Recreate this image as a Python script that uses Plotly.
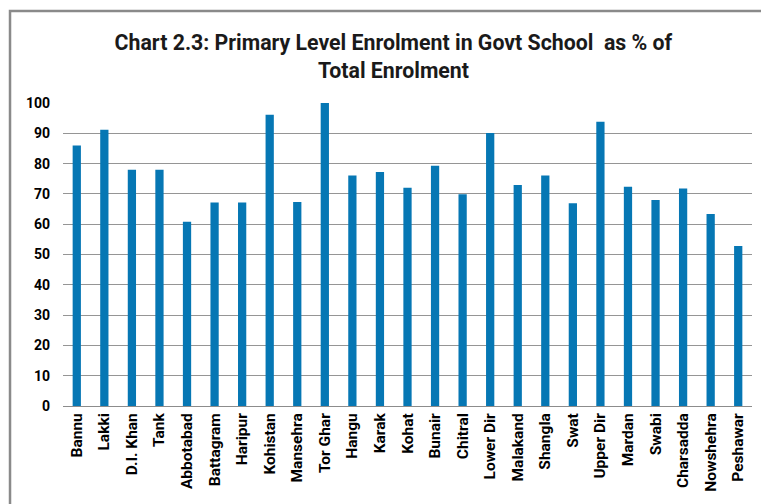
import plotly.graph_objects as go

districts = ["Bannu", "Lakki", "D.I. Khan", "Tank", "Abbotabad", "Battagram", "Haripur",
             "Kohistan", "Mansehra", "Tor Ghar", "Hangu", "Karak", "Kohat", "Bunair",
             "Chitral", "Lower Dir", "Malakand", "Shangla", "Swat", "Upper Dir", "Mardan",
             "Swabi", "Charsadda", "Nowshehra", "Peshawar"]
enrolment_pct = [86.0, 91.2, 78.0, 78.0, 60.8, 67.2, 67.2, 96.1, 67.3, 100.0, 76.1, 77.2,
                 72.0, 79.3, 69.9, 90.1, 72.9, 76.1, 66.9, 93.8, 72.4, 68.0, 71.8, 63.4, 52.8]
y_ticks = [0, 10, 20, 30, 40, 50, 60, 70, 80, 90, 100]

FONT = "Roboto"

fig = go.Figure(go.Bar(x=districts, y=enrolment_pct, marker=dict(color="#0677b4", line=dict(width=0))))

fig.update_layout(
    width=761, height=504,
    margin=dict(l=63, r=9, t=103, b=98),
    paper_bgcolor="white", plot_bgcolor="white",
    bargap=0.70,
    showlegend=False,
    title=dict(
        text="Chart 2.3: Primary Level Enrolment in Govt School \u00a0as % of<br>Total Enrolment",
        x=0.517, xanchor="center", xref="container",
        y=1 - 50 / 504, yanchor="top", yref="container",
        font=dict(family=FONT, size=21.3, color="#1a1a1a", weight="bold"),
    ),
    font=dict(family=FONT),
)
fig.update_xaxes(
    tickangle=-90, tickfont=dict(family=FONT, size=15.5, color="black", weight="bold"),
    showline=True, linecolor="#8c8c8c", linewidth=1, ticks="", showgrid=False,
)
fig.update_yaxes(
    range=[0, 100], tickvals=y_ticks, showgrid=True, gridcolor="#959595", gridwidth=1,
    tickfont=dict(family=FONT, size=14, color="black", weight="bold"),
    zeroline=False, showline=False, ticks="", ticklabelstandoff=12,
)
# outer frame of the chart image
fig.add_shape(type="rect", xref="paper", yref="paper",
              x0=-0.0769, x1=1.03, y0=-0.36, y1=1.3036,
              line=dict(color="#8a8a8a", width=2.5), fillcolor="rgba(0,0,0,0)", layer="below")

fig.write_html("out.html")
